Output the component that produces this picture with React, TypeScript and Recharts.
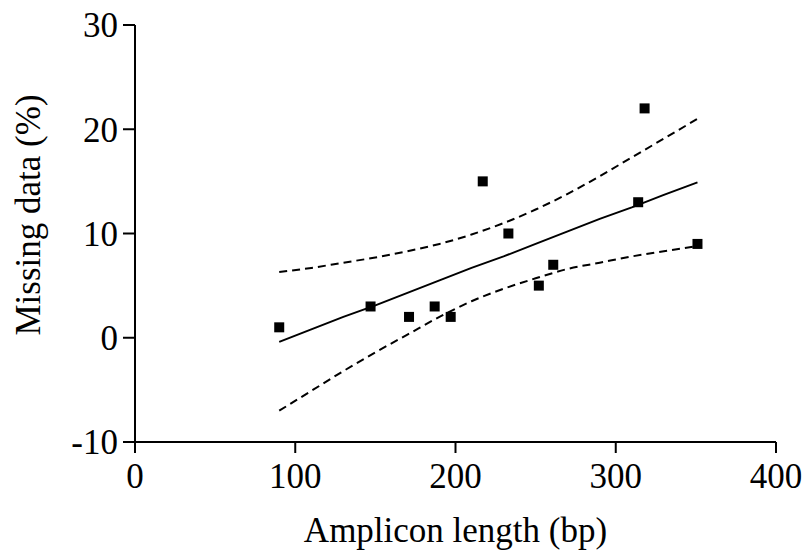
import { ComposedChart, Line, Scatter, XAxis, YAxis } from 'recharts';

// measured points: amplicon length (bp) vs missing data (%)
const ampliconLength = [90, 147, 171, 187, 197, 217, 233, 252, 261, 314, 318, 351];
const missingData = [1, 3, 2, 3, 2, 15, 10, 5, 7, 13, 22, 9];

// fitted line and 95% confidence band
const bandX = [90, 110, 130, 150, 170, 190, 210, 230, 250, 270, 290, 310, 330, 351];
const fitY = [-0.4, 0.8, 2.0, 3.1, 4.3, 5.5, 6.7, 7.8, 9.0, 10.2, 11.4, 12.5, 13.7, 14.9];
const upperY = [6.3, 6.7, 7.2, 7.7, 8.3, 9.0, 9.9, 11.0, 12.3, 13.8, 15.5, 17.3, 19.1, 21.0];
const lowerY = [-7.0, -5.1, -3.2, -1.4, 0.3, 2.0, 3.5, 4.7, 5.7, 6.6, 7.2, 7.8, 8.3, 8.8];

const xTicks = [0, 100, 200, 300, 400];
const yTicks = [-10, 0, 10, 20, 30];

const points = ampliconLength.map((x, i) => ({ x, y: missingData[i] }));
const fit = bandX.map((x, i) => ({ x, y: fitY[i] }));
const upper = bandX.map((x, i) => ({ x, y: upperY[i] }));
const lower = bandX.map((x, i) => ({ x, y: lowerY[i] }));

const FONT = '"Liberation Serif", "Times New Roman", serif';
const FONT_SIZE = 35;
const tickStyle = { fill: '#000', fontSize: FONT_SIZE, fontFamily: FONT };

function Square(props: any) {
  const { cx, cy } = props;
  return <rect x={cx - 5} y={cy - 5} width={10} height={10} fill="#000" />;
}

export default function App() {
  return (
    <div style={{ position: 'absolute', left: 0, top: 0 }}>
      <ComposedChart
        width={808}
        height={552}
        margin={{ top: 25, right: 32, bottom: 0, left: 0 }}
      >
        <XAxis
          type="number"
          dataKey="x"
          domain={[0, 400]}
          ticks={xTicks}
          interval={0}
          height={110}
          tick={tickStyle}
          tickSize={11}
          tickMargin={10}
          axisLine={{ stroke: '#000', strokeWidth: 2 }}
          tickLine={{ stroke: '#000', strokeWidth: 2 }}
          label={{
            content: ({ viewBox }: any) => (
              <text
                x={viewBox.x + viewBox.width / 2}
                y={viewBox.y + 100}
                textAnchor="middle"
                fill="#000"
                fontSize={FONT_SIZE}
                fontFamily={FONT}
              >
                Amplicon length (bp)
              </text>
            ),
          }}
        />
        <YAxis
          type="number"
          domain={[-10, 30]}
          ticks={yTicks}
          interval={0}
          width={135}
          tick={tickStyle}
          tickSize={12}
          tickMargin={5}
          axisLine={{ stroke: '#000', strokeWidth: 2 }}
          tickLine={{ stroke: '#000', strokeWidth: 2 }}
          label={{
            content: () => (
              <text
                x={40}
                y={215}
                transform="rotate(-90 40 215)"
                textAnchor="middle"
                fill="#000"
                fontSize={FONT_SIZE}
                fontFamily={FONT}
              >
                Missing data (%)
              </text>
            ),
          }}
        />

        {/* confidence band */}
        <Line
          data={upper}
          dataKey="y"
          type="monotone"
          stroke="#000"
          strokeWidth={2}
          strokeDasharray="8 5"
          dot={false}
          activeDot={false}
          isAnimationActive={false}
        />
        <Line
          data={lower}
          dataKey="y"
          type="monotone"
          stroke="#000"
          strokeWidth={2}
          strokeDasharray="8 5"
          dot={false}
          activeDot={false}
          isAnimationActive={false}
        />

        {/* regression line */}
        <Line
          data={fit}
          dataKey="y"
          type="linear"
          stroke="#000"
          strokeWidth={2}
          dot={false}
          activeDot={false}
          isAnimationActive={false}
        />

        <Scatter data={points} dataKey="y" shape={Square} isAnimationActive={false} />
      </ComposedChart>
    </div>
  );
}
